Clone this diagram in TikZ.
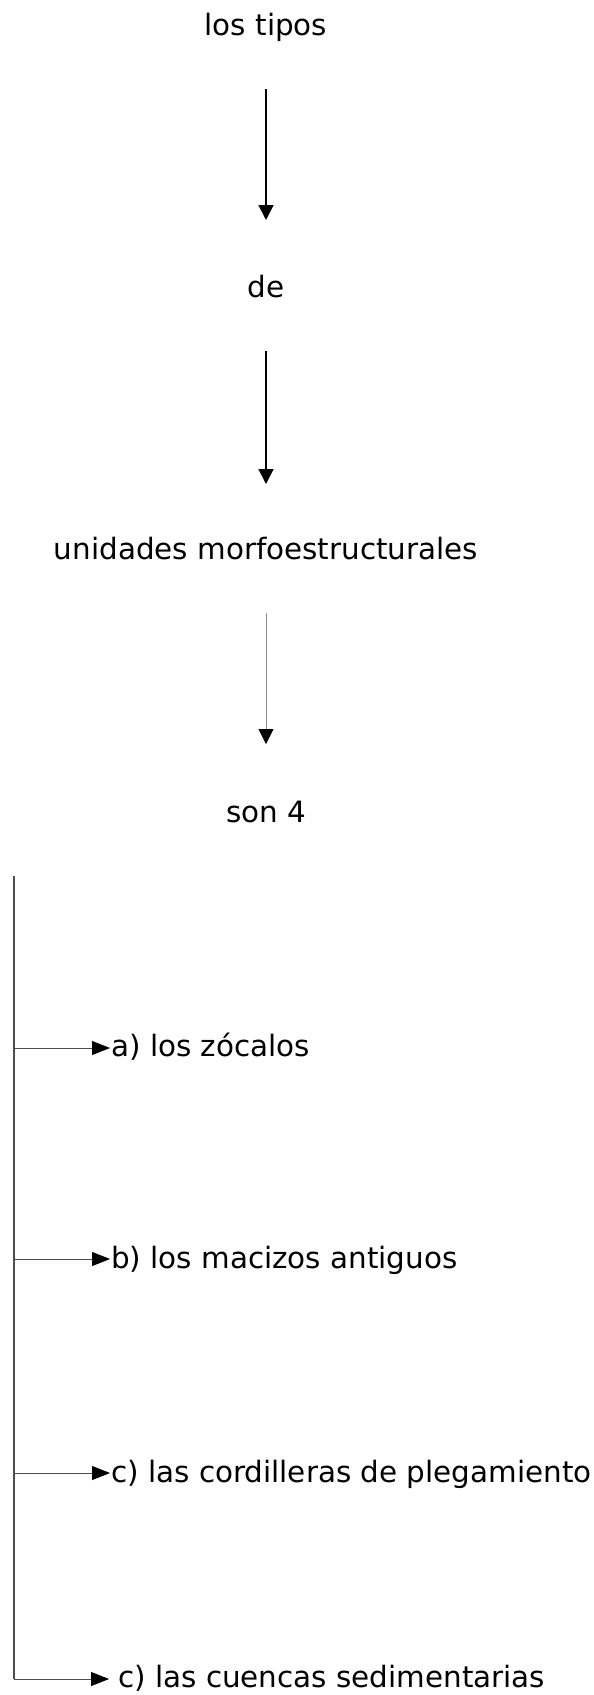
\documentclass[tikz,border=0pt]{standalone}
\usepackage{fontspec}
\setmainfont{DejaVu Sans}
\usetikzlibrary{arrows.meta,calc}
\begin{document}
\begin{tikzpicture}[x=1pt,y=-1pt,
  lbl/.style={inner sep=0pt,anchor=base,font=\fontsize{29.4}{35}\selectfont},
  itemlbl/.style={lbl,anchor=base west},
  varrow/.style={-{Triangle[length=15pt,width=15pt]},line width=1.7pt},
  garrow/.style={-{Triangle[length=15pt,width=15pt,color=black]},line width=0.8pt,draw=black!45},
  trunk/.style={line width=1.1pt,draw=black!70},
  barrow/.style={-{Triangle[length=18pt,width=14pt,color=black]},line width=0.8pt,draw=black!70}
]
\useasboundingbox (0,0) rectangle (594,1695);
\fill[white] (0,0) rectangle (594,1695);

\node[lbl] (t1) at (266,35) {los tipos};
\node[lbl] (t2) at (266,297) {de};
\node[lbl] (t3) at (266,559) {unidades morfoestructurales};
\node[lbl] (t4) at (266,822) {son 4};

\draw[varrow] ($(t1.base)+(0,54)$) -- ($(t2.base)+(0,-77)$);
\draw[varrow] ($(t2.base)+(0,54)$) -- ($(t3.base)+(0,-75)$);
\draw[garrow] ($(t3.base)+(0,54)$) -- ($(t4.base)+(0,-78)$);

\node[itemlbl] (ia) at (111,1056) {a) los zócalos};
\node[itemlbl] (ib) at (111,1268) {b) los macizos antiguos};
\node[itemlbl] (ic) at (111,1482) {c) las cordilleras de plegamiento};
\node[itemlbl] (id) at (118,1687) {c) las cuencas sedimentarias};

\coordinate (top) at (14,876);
\coordinate (bot) at (14,1679);
\draw[trunk] (top) -- (bot);

\draw[barrow] (top |- {$(ia.base west)+(0,-8)$}) -- ($(ia.base west)+(-1,-8)$);
\draw[barrow] (top |- {$(ib.base west)+(0,-9)$}) -- ($(ib.base west)+(-1,-9)$);
\draw[barrow] (top |- {$(ic.base west)+(0,-9)$}) -- ($(ic.base west)+(-1,-9)$);
\draw[barrow] (bot) -- ($(id.base west)+(-9,-8)$);
\end{tikzpicture}
\end{document}
